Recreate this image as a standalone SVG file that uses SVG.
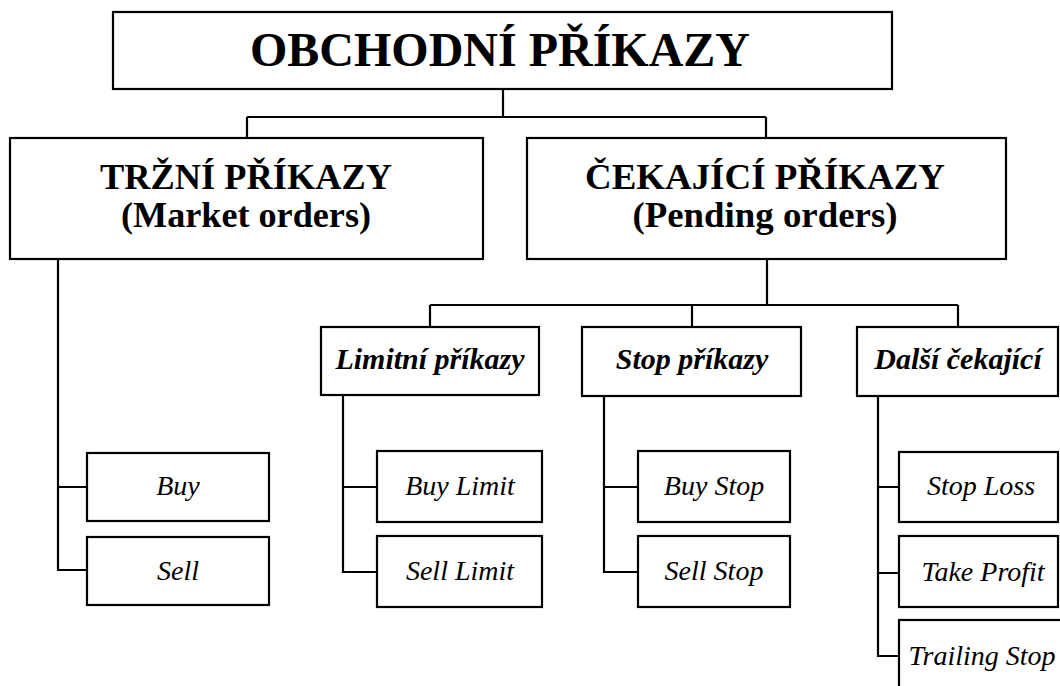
<svg xmlns="http://www.w3.org/2000/svg" width="1060" height="686" viewBox="0 0 1060 686">
<style>
rect{fill:#fff;stroke:#000;stroke-width:2.2}
.c path{fill:none;stroke:#000;stroke-width:2.2}
text{font-family:"Liberation Serif","Times New Roman",serif;fill:#000;text-anchor:middle}
.t0{font-size:48px;font-weight:bold}
.t1{font-size:35px;font-weight:bold}
.t2{font-size:30px;font-weight:bold;font-style:italic}
.t3{font-size:28px;font-style:italic}
</style>
<rect width="1060" height="686" style="fill:#fff;stroke:none"/>
<g class="c">
<path d="M503 89V117M247 117H766M247 117V138M766 117V138"/>
<path d="M58 259V570H87M58 487H87"/>
<path d="M767 259V305M430 305H958M430 305V327M692 305V327M958 305V327"/>
<path d="M343 395V572H377M343 487H377"/>
<path d="M604 396V572H638M604 487H638"/>
<path d="M878 396V656H899M878 487H899M878 573H899"/>
</g>
<g id="n-root"><rect x="113" y="12" width="779" height="77"/><text class="t0" x="500" y="66">OBCHODNÍ PŘÍKAZY</text></g>
<g id="n-market"><rect x="10" y="138" width="473" height="121"/><text class="t1" x="246" y="189" textLength="292" lengthAdjust="spacingAndGlyphs">TRŽNÍ PŘÍKAZY</text><text class="t1" x="246" y="227" textLength="250" lengthAdjust="spacingAndGlyphs">(Market orders)</text></g>
<g id="n-pending"><rect x="527" y="138" width="479" height="121"/><text class="t1" x="765" y="189" textLength="360" lengthAdjust="spacingAndGlyphs">ČEKAJÍCÍ PŘÍKAZY</text><text class="t1" x="765" y="227" textLength="265" lengthAdjust="spacingAndGlyphs">(Pending orders)</text></g>
<g id="n-limit"><rect x="321" y="327" width="218" height="68"/><text class="t2" x="430" y="369">Limitní příkazy</text></g>
<g id="n-stop"><rect x="582" y="327" width="219" height="69"/><text class="t2" x="692" y="369">Stop příkazy</text></g>
<g id="n-other"><rect x="857" y="327" width="201" height="69"/><text class="t2" x="958" y="369">Další čekající</text></g>
<g id="n-buy"><rect x="87" y="453" width="182" height="68"/><text class="t3" x="178" y="495">Buy</text></g>
<g id="n-sell"><rect x="87" y="537" width="182" height="68"/><text class="t3" x="178" y="580">Sell</text></g>
<g id="n-buylimit"><rect x="377" y="451" width="165" height="71"/><text class="t3" x="460" y="495">Buy Limit</text></g>
<g id="n-selllimit"><rect x="377" y="536" width="165" height="71"/><text class="t3" x="460" y="580">Sell Limit</text></g>
<g id="n-buystop"><rect x="638" y="451" width="152" height="71"/><text class="t3" x="714" y="495">Buy Stop</text></g>
<g id="n-sellstop"><rect x="638" y="536" width="152" height="71"/><text class="t3" x="714" y="580">Sell Stop</text></g>
<g id="n-sl"><rect x="899" y="452" width="159" height="70"/><text class="t3" x="981" y="495">Stop Loss</text></g>
<g id="n-tp"><rect x="899" y="536" width="159" height="71"/><text class="t3" x="983" y="581">Take Profit</text></g>
<g id="n-ts"><rect x="899" y="620" width="175" height="80"/><text class="t3" x="982" y="665">Trailing Stop</text></g>
</svg>
